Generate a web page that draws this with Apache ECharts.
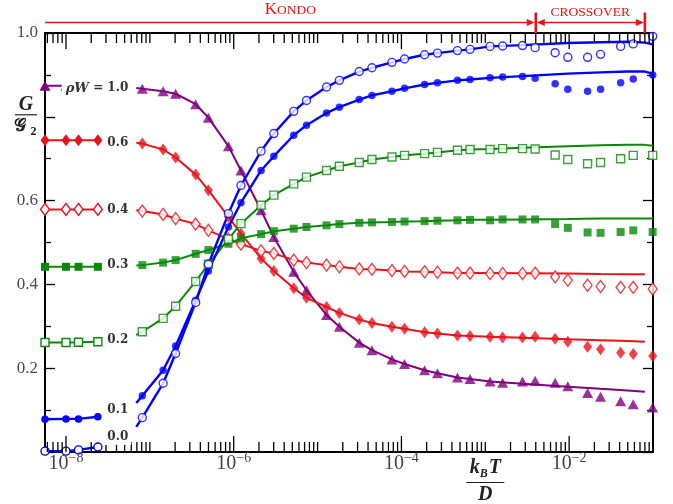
<!DOCTYPE html>
<html><head><meta charset="utf-8">
<script src="https://cdn.jsdelivr.net/npm/echarts@6/dist/echarts.min.js"></script>
<style>html,body{margin:0;padding:0;background:#fff}#c{width:673px;height:504px}</style>
</head><body><div id="c"></div>
<script>
// ---------- axis ranges / ticks ----------
const xMin = 5.62e-9, xMax = 0.1;
const xLabelExps = [-8, -6, -4, -2];
const yTickLabels = ['', '0.2', '0.4', '0.6', '', '1.0'];
const regimeBounds = [xMin, 4.0e-3, 8.0e-2];
const regimeNames = ['KONDO', 'CROSSOVER'];

// ---------- temperatures ----------
const tLeft = [5.62e-9, 1.0e-8, 1.41e-8, 2.40e-8];          // T = 0 reference values (left panel)
const tStart = 6.89e-8;                                     // start of the curves
const tMark = [8.13e-8, 1.44e-7, 2.03e-7, 3.52e-7, 4.99e-7, 8.65e-7, 1.22e-6, 2.12e-6, 3.01e-6, 5.20e-6,
  7.38e-6, 1.28e-5, 1.82e-5, 3.14e-5, 4.45e-5, 7.71e-5, 1.09e-4, 1.89e-4, 2.69e-4, 4.66e-4,
  6.58e-4, 1.14e-3, 1.61e-3, 2.78e-3, 3.93e-3, 6.81e-3, 9.64e-3, 1.66e-2, 2.37e-2, 4.11e-2,
  5.81e-2, 9.91e-2];
const nJoined = 21;                                          // markers joined by the curve
const tFit = [1.14e-3, 2.78e-3, 9.64e-3, 2.37e-2, 5.0e-2, 8.0e-2, 1.0e-1];

// ---------- rho W = 1.0 (purple triangles) ----------
const purpleStart = 0.869;
const purpleLeft = [0.874, 0.874, 0.874, 0.874];
const purpleMark = [0.867, 0.861, 0.855, 0.830, 0.798, 0.730, 0.672, 0.577, 0.513, 0.430, 0.386, 0.327, 0.299,
  0.261, 0.243, 0.221, 0.210, 0.195, 0.188, 0.178, 0.174, 0.168, 0.165, 0.168, 0.170, 0.165, 0.157, 0.141,
  0.132, 0.121, 0.114, 0.106];
const purpleFit = [0.168, 0.163, 0.156, 0.151, 0.147, 0.144, null];

// ---------- rho W = 0.6 (red filled diamonds) ----------
const redFStart = 0.738;
const redFLeft = [0.744, 0.744, 0.744, 0.744];
const redFMark = [0.736, 0.722, 0.703, 0.662, 0.625, 0.561, 0.521, 0.462, 0.432, 0.391, 0.368, 0.346, 0.332,
  0.316, 0.308, 0.299, 0.294, 0.286, 0.283, 0.278, 0.277, 0.275, 0.273, 0.273, 0.275, 0.270, 0.263, 0.251,
  0.245, 0.237, 0.234, 0.229];
const redFFit = [0.275, 0.2725, 0.269, 0.267, 0.265, 0.263, null];

// ---------- rho W = 0.4 (red open diamonds) ----------
const redOStart = 0.577;
const redOLeft = [0.579, 0.579, 0.579, 0.579];
const redOMark = [0.575, 0.567, 0.557, 0.544, 0.529, 0.508, 0.496, 0.480, 0.474, 0.458, 0.452, 0.446, 0.442,
  0.437, 0.436, 0.433, 0.431, 0.430, 0.429, 0.427, 0.427, 0.426, 0.426, 0.426, 0.427, 0.418, 0.410, 0.398,
  0.395, 0.393, 0.393, 0.389];
const redOFit = [0.427, 0.4265, 0.426, 0.425, 0.4245, 0.424, null];

// ---------- rho W = 0.3 (green filled squares) ----------
const greenFStart = 0.445;
const greenFLeft = [0.442, 0.442, 0.442, 0.442];
const greenFMark = [0.446, 0.452, 0.458, 0.473, 0.482, 0.497, 0.510, 0.520, 0.527, 0.533, 0.537, 0.541, 0.544,
  0.547, 0.548, 0.549, 0.550, 0.551, 0.552, 0.553, 0.554, 0.553, 0.555, 0.555, 0.555, 0.544, 0.535, 0.524,
  0.523, 0.525, 0.529, 0.525];
const greenFFit = [0.554, 0.555, 0.556, 0.557, 0.557, 0.557, 0.557];

// ---------- rho W = 0.2 (green open squares) ----------
const greenOStart = 0.279;
const greenOLeft = [0.2615, 0.2615, 0.262, 0.263];
const greenOMark = [0.287, 0.319, 0.348, 0.407, 0.448, 0.508, 0.545, 0.589, 0.613, 0.640, 0.656, 0.672, 0.682,
  0.691, 0.698, 0.704, 0.708, 0.712, 0.715, 0.720, 0.722, 0.722, 0.724, 0.724, 0.723, 0.709, 0.698, 0.688,
  0.691, 0.700, 0.708, 0.708];
const greenOFit = [0.723, 0.726, 0.730, 0.732, 0.733, 0.733, 0.731];

// ---------- rho W = 0.1 (blue filled circles) ----------
const blueFStart = 0.117;
const blueFLeft = [0.078, 0.079, 0.079, 0.084];
const blueFMark = [0.134, 0.195, 0.253, 0.362, 0.432, 0.537, 0.595, 0.672, 0.706, 0.756, 0.780, 0.809, 0.823,
  0.841, 0.851, 0.861, 0.868, 0.877, 0.881, 0.887, 0.889, 0.893, 0.895, 0.896, 0.892, 0.879, 0.866, 0.861,
  0.866, 0.881, 0.890, 0.900];
const blueFFit = [0.893, 0.897, 0.903, 0.906, 0.908, 0.908, 0.903];

// ---------- rho W = 0.0 (blue open circles) ----------
const blueOStart = 0.060;
const blueOLeft = [0.002, 0.002, 0.005, 0.012];
const blueOMark = [0.082, 0.164, 0.235, 0.357, 0.448, 0.569, 0.636, 0.718, 0.760, 0.813, 0.839, 0.871, 0.887,
  0.908, 0.917, 0.930, 0.938, 0.948, 0.952, 0.958, 0.961, 0.968, 0.969, 0.970, 0.965, 0.953, 0.942, 0.942,
  0.949, 0.968, 0.974, 0.992];
const blueOFit = [0.968, 0.971, 0.976, 0.978, 0.979, 0.977, 0.973];

// ---------- curve labels ----------
const curveLabels = ['ρW = 1.0', '0.6', '0.4', '0.3', '0.2', '0.1', '0.0'];
const curveLabelY = [0.868, 0.738, 0.578, 0.446, 0.268, 0.100, 0.036];
const curveLabelT = 6.0e-8;

// ---------- styles ----------
const PURPLE = '#800080', RED = '#e8141c', GREEN = '#0a880a', BLUE = '#0000ff', ANNOT = '#f01010';
const curves = [
  {color: PURPLE, symbol: 'triangle', size: [11, 10], open: false, w: 2, start: purpleStart, left: purpleLeft, mark: purpleMark, fit: purpleFit},
  {color: RED, symbol: 'diamond', size: [9, 12], open: false, w: 2, start: redFStart, left: redFLeft, mark: redFMark, fit: redFFit},
  {color: RED, symbol: 'diamond', size: [9, 12], open: true, w: 2, start: redOStart, left: redOLeft, mark: redOMark, fit: redOFit},
  {color: GREEN, symbol: 'rect', size: 8, open: false, w: 2, start: greenFStart, left: greenFLeft, mark: greenFMark, fit: greenFFit},
  {color: GREEN, symbol: 'rect', size: 8, open: true, w: 2, start: greenOStart, left: greenOLeft, mark: greenOMark, fit: greenOFit},
  {color: BLUE, symbol: 'circle', size: 7.5, open: false, w: 2.4, start: blueFStart, left: blueFLeft, mark: blueFMark, fit: blueFFit},
  {color: BLUE, symbol: 'circle', size: 8, open: true, w: 2.4, start: blueOStart, left: blueOLeft, mark: blueOMark, fit: blueOFit}
];

const series = [];
curves.forEach(function (c) {
  const itemStyle = c.open ? {color: '#fff', borderColor: c.color, borderWidth: 1.4} : {color: c.color, borderWidth: 0};
  // T = 0 flat segment with markers
  series.push({
    type: 'line', data: tLeft.map((t, i) => [t, c.left[i]]), symbol: c.symbol, symbolSize: c.size,
    showSymbol: true, lineStyle: {color: c.color, width: c.w}, itemStyle: itemStyle, z: 3, silent: true
  });
  // curve: start point, joined markers, then the fitted tail
  const lineData = [[tStart, c.start]]
    .concat(tMark.slice(0, nJoined).map((t, i) => [t, c.mark[i]]))
    .concat(tFit.map((t, i) => [t, c.fit[i]]).filter(p => p[1] !== null));
  series.push({
    type: 'line', data: lineData, symbol: 'none', lineStyle: {color: c.color, width: c.w}, z: 2, silent: true
  });
  // markers
  series.push({
    type: 'scatter', data: tMark.map((t, i) => [t, c.mark[i]]), symbol: c.symbol, symbolSize: c.size,
    itemStyle: itemStyle, z: 3, silent: true
  });
});

// curve labels: white-boxed text drawn above the curves
const labelRich = {
  i: {fontFamily: 'DejaVu Serif', fontWeight: 'bold', fontStyle: 'italic', fontSize: 13, fill: '#333'},
  b: {fontFamily: 'DejaVu Serif', fontWeight: 'bold', fontSize: 12, fill: '#333'}
};
series.push({
  type: 'custom', coordinateSystem: 'cartesian2d', z: 20, zlevel: 1, silent: true, clip: false,
  data: curveLabels.map((s, i) => [curveLabelT, curveLabelY[i], i]),
  renderItem: function (params, api) {
    const s = curveLabels[api.value(2)];
    const p = api.coord([api.value(0), api.value(1)]);
    let text;
    if (s.indexOf('W') >= 0) {
      const parts = s.split(' = ');
      text = '{i|' + parts[0] + '}{b| = ' + parts[1] + '}';
    } else {
      text = '{b|' + s + '}';
    }
    return {
      type: 'text', x: p[0], y: p[1], z2: 10,
      style: {text: text, rich: labelRich, align: 'right', verticalAlign: 'middle',
        backgroundColor: '#fff', padding: [2, 3, 2, 4]}
    };
  }
});

// overlay: log ticks, tick labels, axis titles and regime annotation
function renderOverlay(params, api) {
  const cs = params.coordSys;
  const L = cs.x, T = cs.y, R = cs.x + cs.width, B = cs.y + cs.height;
  const kids = [];
  const ln = (x1, y1, x2, y2, w, c) => kids.push({type: 'line', shape: {x1: x1, y1: y1, x2: x2, y2: y2}, style: {stroke: c, lineWidth: w}});
  const poly = (pts, c) => kids.push({type: 'polygon', shape: {points: pts}, style: {fill: c}});
  const txt = (x, y, text, rich, extra) => kids.push({type: 'text', x: x, y: y,
    style: Object.assign({text: text, rich: rich, align: 'center', verticalAlign: 'middle'}, extra || {})});
  for (let k = -9; k <= -1; k++) {
    for (let m = 1; m <= 9; m++) {
      const t = m * Math.pow(10, k);
      if (t < xMin * 0.999 || t > xMax * 1.001) continue;
      const x = api.coord([t, 0])[0];
      const len = (m === 1 && k % 2 === 0) ? 16 : 10;
      ln(x, B, x, B - len, 1.3, '#000');
      ln(x, T, x, T + len, 1.3, '#000');
    }
  }
  xLabelExps.forEach(function (e) {
    const x = api.coord([Math.pow(10, e), 0])[0];
    txt(x, B + 12, '{b|10}{s|−' + (-e) + '}', {
      b: {fontFamily: 'Liberation Serif', fontSize: 20, lineHeight: 26, fill: '#444'},
      s: {fontFamily: 'Liberation Serif', fontSize: 14, lineHeight: 14, fill: '#444', verticalAlign: 'top'}
    });
  });
  // x title kBT / D centred at 1e-3
  const xt = api.coord([1e-3, 0])[0];
  const it = {fontFamily: 'Liberation Serif', fontStyle: 'italic', fontWeight: 'bold', fontSize: 20, fill: '#222'};
  txt(xt, B + 16, '{i|k}{s|B}{i|T}', {
    i: Object.assign({lineHeight: 24}, it),
    s: {fontFamily: 'Liberation Serif', fontStyle: 'italic', fontWeight: 'bold', fontSize: 12, lineHeight: 14,
        fill: '#222', verticalAlign: 'bottom', padding: [0, 1, 0, 0]}
  });
  ln(xt - 19, B + 30.5, xt + 19, B + 30.5, 1.2, '#222');
  txt(xt, B + 43, '{i|D}', {i: it});
  // y title G / G2 at y = 0.8
  const yt = api.coord([xMin, 0.8])[1];
  const xy = L - 19;
  txt(xy, yt - 12, '{i|G}', {i: it});
  ln(xy - 11, yt - 2, xy + 11, yt - 2, 1.2, '#222');
  txt(xy - 1, yt + 10, '{i|𝒢}{s|2}', {
    i: {fontFamily: 'DejaVu Serif', fontWeight: 'bold', fontSize: 17, lineHeight: 22, fill: '#222'},
    s: {fontFamily: 'Liberation Serif', fontWeight: 'bold', fontSize: 12, lineHeight: 12, fill: '#222',
        verticalAlign: 'bottom', padding: [0, 0, 0, 5]}
  });
  // regimes
  const xb0 = api.coord([regimeBounds[0], 0])[0];
  const xb1 = api.coord([regimeBounds[1], 0])[0];
  const xb2 = api.coord([regimeBounds[2], 0])[0];
  const ya = T - 10.5;
  ln(xb0, ya, xb1 - 4, ya, 1.5, ANNOT);
  poly([[xb1 - 9, ya - 3.5], [xb1 - 1, ya], [xb1 - 9, ya + 3.5]], ANNOT);
  ln(xb1 + 4, ya, xb2 - 4, ya, 1.5, ANNOT);
  poly([[xb1 + 9, ya - 3.5], [xb1 + 1, ya], [xb1 + 9, ya + 3.5]], ANNOT);
  poly([[xb2 - 9, ya - 3.5], [xb2 - 1, ya], [xb2 - 9, ya + 3.5]], ANNOT);
  ln(xb1, T - 20.5, xb1, T, 2.6, ANNOT);
  ln(xb2, T - 20.5, xb2, T, 2.6, ANNOT);
  const sc = {a: {fontFamily: 'Liberation Serif', fontSize: 17, fill: ANNOT}, b: {fontFamily: 'Liberation Serif', fontSize: 13.5, fill: ANNOT}};
  txt((xb0 + xb1) / 2, T - 23, '{a|' + regimeNames[0].charAt(0) + '}{b|' + regimeNames[0].slice(1) + '}', sc);
  txt((xb1 + xb2) / 2, T - 21, '{b|' + regimeNames[1] + '}', sc);
  return {type: 'group', children: kids};
}
series.push({
  type: 'custom', coordinateSystem: 'cartesian2d', data: [[xMin, 0]], renderItem: renderOverlay,
  clip: false, silent: true, z: 4
});

const axisLineStyle = {show: true, onZero: false, lineStyle: {color: '#000', width: 2}};
const option = {
  animation: false,
  backgroundColor: '#fff',
  grid: {left: 45, right: 20, top: 33, bottom: 52, containLabel: false, outerBoundsMode: 'none'},
  xAxis: [
    {type: 'log', logBase: 10, min: xMin, max: xMax, position: 'bottom', axisLine: axisLineStyle,
      axisTick: {show: false}, axisLabel: {show: false}, splitLine: {show: false}, minorTick: {show: false}},
    {type: 'log', logBase: 10, min: xMin, max: xMax, position: 'top', axisLine: axisLineStyle,
      axisTick: {show: false}, axisLabel: {show: false}, splitLine: {show: false}, minorTick: {show: false}}
  ],
  yAxis: [
    {type: 'value', min: 0, max: 1, interval: 0.2, position: 'left', axisLine: axisLineStyle,
      axisTick: {show: true, inside: true, length: 10, lineStyle: {color: '#000', width: 1.3}},
      minorTick: {show: true, splitNumber: 2, length: 6, lineStyle: {color: '#000', width: 1.3}},
      splitLine: {show: false},
      axisLabel: {formatter: v => yTickLabels[Math.round(v / 0.2)] || '', color: '#4a4a4a',
        fontFamily: 'Liberation Serif', fontSize: 17, margin: 7}},
    {type: 'value', min: 0, max: 1, interval: 0.2, position: 'right', axisLine: axisLineStyle,
      axisTick: {show: true, inside: true, length: 10, lineStyle: {color: '#000', width: 1.3}},
      minorTick: {show: true, splitNumber: 2, length: 6, lineStyle: {color: '#000', width: 1.3}},
      splitLine: {show: false}, axisLabel: {show: false}}
  ],
  series: series
};
const chart = echarts.init(document.getElementById('c'), null, {renderer: 'canvas'});
chart.setOption(option);
</script></body></html>
